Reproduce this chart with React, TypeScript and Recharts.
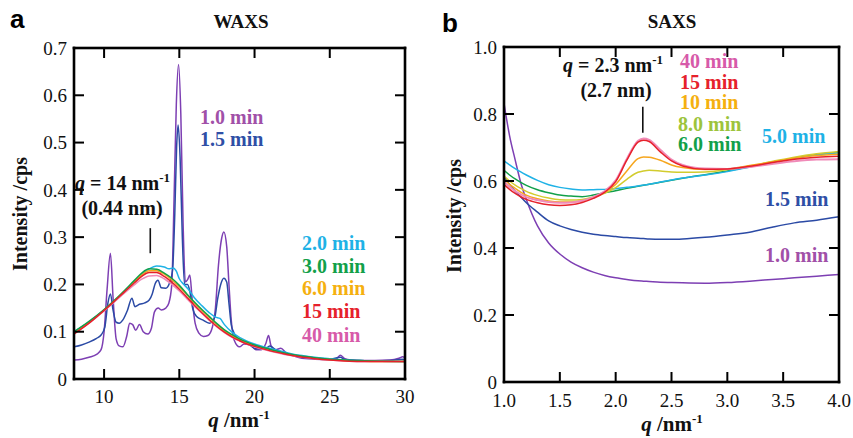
import { LineChart, Line, XAxis, YAxis, ReferenceLine } from 'recharts'

// ---- WAXS (panel a) ----
const WAXS_SMOOTH_Q = [8, 9, 10, 11, 12, 12.5, 13, 13.5, 14, 14.5, 15, 15.5, 16, 16.5, 17, 17.5, 18, 18.5, 19, 19.5, 20, 21, 22, 23, 24, 25, 26, 27, 28, 30]
const WAXS_3MIN = [0.100, 0.122, 0.147, 0.176, 0.208, 0.224, 0.233, 0.232, 0.224, 0.213, 0.198, 0.180, 0.163, 0.147, 0.132, 0.117, 0.104, 0.094, 0.085, 0.078, 0.072, 0.063, 0.055, 0.049, 0.045, 0.042, 0.040, 0.039, 0.038, 0.037]
const WAXS_6MIN = [0.097, 0.120, 0.146, 0.175, 0.205, 0.220, 0.229, 0.229, 0.222, 0.210, 0.195, 0.178, 0.161, 0.145, 0.130, 0.115, 0.102, 0.092, 0.084, 0.077, 0.071, 0.062, 0.054, 0.048, 0.044, 0.041, 0.039, 0.038, 0.037, 0.037]
const WAXS_15MIN = [0.095, 0.118, 0.145, 0.174, 0.203, 0.217, 0.225, 0.225, 0.217, 0.205, 0.190, 0.173, 0.156, 0.140, 0.125, 0.111, 0.099, 0.089, 0.081, 0.074, 0.069, 0.060, 0.053, 0.047, 0.043, 0.040, 0.038, 0.037, 0.037, 0.037]
const WAXS_40MIN = [0.096, 0.118, 0.144, 0.172, 0.199, 0.211, 0.218, 0.219, 0.212, 0.200, 0.186, 0.170, 0.154, 0.139, 0.124, 0.110, 0.098, 0.088, 0.080, 0.074, 0.068, 0.059, 0.052, 0.047, 0.043, 0.040, 0.038, 0.037, 0.037, 0.037]

const WAXS_2MIN_Q = [8, 9, 10, 11, 12, 12.5, 13, 13.5, 14, 14.3, 14.6, 14.8, 15, 15.3, 15.6, 16, 16.5, 17, 17.4, 17.7, 18, 18.5, 19, 19.5, 20, 21, 22, 23, 24, 25, 26, 27, 28, 30]
const WAXS_2MIN = [0.100, 0.121, 0.145, 0.173, 0.205, 0.221, 0.233, 0.239, 0.237, 0.233, 0.235, 0.228, 0.212, 0.200, 0.190, 0.172, 0.155, 0.140, 0.131, 0.128, 0.115, 0.099, 0.088, 0.080, 0.074, 0.065, 0.057, 0.050, 0.046, 0.043, 0.040, 0.039, 0.038, 0.037]

const WAXS_1MIN_Q = [8, 8.5, 9, 9.5, 9.8, 10, 10.2, 10.42, 10.6, 10.8, 11, 11.25, 11.5, 11.7, 11.9, 12.1, 12.35, 12.6, 12.9, 13.15, 13.35, 13.6, 13.8, 14.1, 14.3, 14.5, 14.65, 14.8, 14.95, 15.1, 15.25, 15.4, 15.55, 15.7, 15.85, 16.05, 16.3, 16.6, 16.9, 17.2, 17.4, 17.6, 17.8, 17.96, 18.15, 18.3, 18.45, 18.65, 19, 19.3, 19.7, 20.1, 20.45, 20.75, 20.93, 21.1, 21.4, 21.75, 22.1, 22.5, 23, 24, 25, 25.45, 25.7, 26, 26.5, 27, 28, 29, 29.6, 29.85, 30]
const WAXS_1MIN = [0.040, 0.042, 0.046, 0.052, 0.062, 0.100, 0.190, 0.266, 0.170, 0.085, 0.070, 0.068, 0.090, 0.118, 0.115, 0.103, 0.115, 0.100, 0.095, 0.108, 0.142, 0.150, 0.146, 0.150, 0.160, 0.200, 0.380, 0.580, 0.665, 0.560, 0.330, 0.205, 0.210, 0.220, 0.170, 0.118, 0.097, 0.090, 0.092, 0.110, 0.150, 0.240, 0.295, 0.311, 0.280, 0.200, 0.125, 0.082, 0.068, 0.074, 0.072, 0.062, 0.062, 0.075, 0.092, 0.070, 0.062, 0.065, 0.055, 0.050, 0.045, 0.042, 0.041, 0.043, 0.050, 0.043, 0.040, 0.039, 0.039, 0.040, 0.044, 0.047, 0.044]

const WAXS_1_5MIN_Q = [8, 8.5, 9, 9.5, 9.8, 10.05, 10.25, 10.42, 10.6, 10.8, 11, 11.25, 11.55, 11.85, 12.05, 12.35, 12.7, 13, 13.2, 13.4, 13.58, 13.8, 14.1, 14.35, 14.55, 14.7, 14.82, 14.92, 15.05, 15.2, 15.35, 15.55, 15.7, 15.9, 16.15, 16.55, 17, 17.35, 17.55, 17.75, 17.96, 18.15, 18.3, 18.45, 18.6, 19, 19.45, 20.1, 20.75, 21, 21.4, 22, 23, 24, 25, 25.7, 26, 27, 28, 29, 29.8, 30]
const WAXS_1_5MIN = [0.068, 0.072, 0.078, 0.086, 0.093, 0.110, 0.160, 0.180, 0.145, 0.120, 0.118, 0.125, 0.145, 0.171, 0.153, 0.158, 0.161, 0.167, 0.180, 0.202, 0.209, 0.193, 0.192, 0.203, 0.230, 0.350, 0.490, 0.537, 0.470, 0.300, 0.200, 0.200, 0.185, 0.148, 0.132, 0.125, 0.118, 0.130, 0.170, 0.200, 0.213, 0.205, 0.160, 0.115, 0.100, 0.082, 0.078, 0.064, 0.064, 0.070, 0.062, 0.055, 0.048, 0.044, 0.042, 0.046, 0.041, 0.039, 0.038, 0.039, 0.042, 0.041]

// ---- SAXS (panel b) ----
const SAXS_Q = [1.0, 1.05, 1.1, 1.15, 1.2, 1.3, 1.4, 1.5, 1.6, 1.7, 1.8, 1.9, 2.0, 2.1, 2.2, 2.25, 2.3, 2.4, 2.5, 2.6, 2.8, 3.0, 3.2, 3.4, 3.6, 3.8, 4.0]
const SAXS_1MIN = [0.832, 0.735, 0.663, 0.595, 0.545, 0.466, 0.415, 0.382, 0.358, 0.341, 0.328, 0.318, 0.311, 0.306, 0.302, 0.301, 0.300, 0.298, 0.297, 0.296, 0.295, 0.297, 0.301, 0.306, 0.311, 0.316, 0.321]
const SAXS_1_5MIN = [0.612, 0.590, 0.570, 0.552, 0.535, 0.507, 0.481, 0.466, 0.455, 0.447, 0.441, 0.437, 0.434, 0.431, 0.429, 0.428, 0.427, 0.426, 0.426, 0.427, 0.432, 0.439, 0.447, 0.462, 0.475, 0.483, 0.493]
const SAXS_5MIN = [0.660, 0.648, 0.637, 0.627, 0.618, 0.602, 0.589, 0.581, 0.576, 0.573, 0.574, 0.575, 0.577, 0.581, 0.585, 0.588, 0.590, 0.597, 0.603, 0.609, 0.618, 0.628, 0.642, 0.656, 0.668, 0.678, 0.684]
const SAXS_6MIN = [0.632, 0.618, 0.606, 0.596, 0.587, 0.574, 0.565, 0.558, 0.555, 0.553, 0.558, 0.565, 0.571, 0.578, 0.584, 0.587, 0.590, 0.596, 0.602, 0.608, 0.619, 0.630, 0.643, 0.656, 0.668, 0.679, 0.686]
const SAXS_8MIN = [0.615, 0.600, 0.588, 0.578, 0.569, 0.557, 0.549, 0.544, 0.543, 0.545, 0.552, 0.563, 0.580, 0.605, 0.626, 0.630, 0.632, 0.630, 0.627, 0.626, 0.627, 0.634, 0.645, 0.658, 0.671, 0.681, 0.688]
const SAXS_10MIN = [0.605, 0.590, 0.578, 0.567, 0.558, 0.547, 0.540, 0.537, 0.537, 0.541, 0.551, 0.566, 0.590, 0.630, 0.667, 0.672, 0.671, 0.662, 0.648, 0.640, 0.634, 0.636, 0.646, 0.657, 0.668, 0.676, 0.680]
const SAXS_15MIN = [0.590, 0.575, 0.563, 0.553, 0.545, 0.535, 0.529, 0.527, 0.529, 0.536, 0.548, 0.566, 0.598, 0.662, 0.716, 0.722, 0.718, 0.687, 0.660, 0.645, 0.635, 0.636, 0.644, 0.655, 0.665, 0.671, 0.674]
const SAXS_40MIN = [0.598, 0.583, 0.570, 0.560, 0.552, 0.543, 0.537, 0.535, 0.536, 0.541, 0.552, 0.569, 0.602, 0.666, 0.720, 0.727, 0.723, 0.693, 0.664, 0.648, 0.637, 0.636, 0.642, 0.651, 0.659, 0.664, 0.665]

const WAXS_X_TICKS = [10, 15, 20, 25, 30]
const WAXS_Y_TICKS = [0, 0.1, 0.2, 0.3, 0.4, 0.5, 0.6, 0.7]
const SAXS_X_TICKS = [1.0, 1.5, 2.0, 2.5, 3.0, 3.5, 4.0]
const SAXS_Y_TICKS = [0, 0.2, 0.4, 0.6, 0.8, 1.0]

const zip = (qs: number[], vs: number[]) => qs.map((q, i) => ({ q, v: vs[i] }))

const SERIF = '"Liberation Serif", "Times New Roman", serif'
const SANS = '"Liberation Sans", Arial, sans-serif'
const INK = '#111111'

const C = {
  purple: '#7d3fb3', purpleText: '#a150a8',
  blue: '#2b4aa5', blueText: '#2f4fa6',
  cyan: '#1fb2e6',
  green: '#12a04a',
  orange: '#f6a61e', orangeText: '#f5b010',
  yellow: '#d2cc2e', yellowText: '#9dc43c',
  red: '#e6212b',
  pink: '#f08ab8', pinkText: '#d75aa9',
}

// plot boxes (page pixels), matching the chart margins below
const BOX_A = { left: 74, top: 48, width: 331, height: 331, x: [8, 30], y: [0, 0.7] }
const BOX_B = { left: 504, top: 47, width: 335, height: 335, x: [1, 4], y: [0, 1] }

const tickStyle = { fill: INK, fontSize: 19, fontFamily: SERIF }
const fmt1 = (v: number) => (v === 0 ? '0' : v.toFixed(1))

function series(data: { q: number; v: number }[], color: string, w = 1.5) {
  return (
    <Line
      data={data}
      dataKey="v"
      type="monotone"
      stroke={color}
      strokeWidth={w}
      dot={false}
      activeDot={false}
      isAnimationActive={false}
    />
  )
}

function WaxsPanel() {
  return (
    <LineChart width={430} height={438} margin={{ top: 48, right: 25, bottom: 29, left: 34 }}>
      <XAxis dataKey="q" type="number" domain={[8, 30]} allowDataOverflow ticks={WAXS_X_TICKS} interval={0}
        height={30} tickSize={0} tickMargin={11} tick={tickStyle} tickLine={false} axisLine={false} />
      <YAxis type="number" domain={[0, 0.7]} allowDataOverflow ticks={WAXS_Y_TICKS} interval={0} width={40}
        tickSize={0} tickMargin={7} tick={tickStyle} tickFormatter={fmt1} tickLine={false} axisLine={false} />
      {series(zip(WAXS_1MIN_Q, WAXS_1MIN), C.purple)}
      {series(zip(WAXS_1_5MIN_Q, WAXS_1_5MIN), C.blue)}
      {series(zip(WAXS_2MIN_Q, WAXS_2MIN), C.cyan)}
      {series(zip(WAXS_SMOOTH_Q, WAXS_40MIN), C.pink)}
      {series(zip(WAXS_SMOOTH_Q, WAXS_6MIN), C.orange)}
      {series(zip(WAXS_SMOOTH_Q, WAXS_3MIN), C.green)}
      {series(zip(WAXS_SMOOTH_Q, WAXS_15MIN), C.red)}
      <ReferenceLine segment={[{ x: 13.07, y: 0.266 }, { x: 13.07, y: 0.319 }]} stroke={INK} strokeWidth={1.6} />
    </LineChart>
  )
}

function SaxsPanel() {
  return (
    <LineChart width={423} height={438} margin={{ top: 47, right: 14, bottom: 26, left: 34 }}>
      <XAxis dataKey="q" type="number" domain={[1, 4]} allowDataOverflow ticks={SAXS_X_TICKS} interval={0}
        height={30} tickSize={0} tickMargin={12} tick={tickStyle} tickFormatter={(v: number) => v.toFixed(1)}
        tickLine={false} axisLine={false} />
      <YAxis type="number" domain={[0, 1]} allowDataOverflow ticks={SAXS_Y_TICKS} interval={0} width={40}
        tickSize={0} tickMargin={7} tick={tickStyle} tickFormatter={fmt1} tickLine={false} axisLine={false} />
      {series(zip(SAXS_Q, SAXS_1MIN), C.purple)}
      {series(zip(SAXS_Q, SAXS_1_5MIN), C.blue)}
      {series(zip(SAXS_Q, SAXS_6MIN), C.green)}
      {series(zip(SAXS_Q, SAXS_5MIN), C.cyan)}
      {series(zip(SAXS_Q, SAXS_8MIN), C.yellow)}
      {series(zip(SAXS_Q, SAXS_10MIN), C.orange)}
      {series(zip(SAXS_Q, SAXS_40MIN), C.pink, 2)}
      {series(zip(SAXS_Q, SAXS_15MIN), C.red)}
      <ReferenceLine segment={[{ x: 2.243, y: 0.744 }, { x: 2.243, y: 0.822 }]} stroke={INK} strokeWidth={1.6} />
    </LineChart>
  )
}

// plot frame with inward ticks on all four sides
function Frame({ box, xt, yt }: { box: typeof BOX_A; xt: number[]; yt: number[] }) {
  const { left, top, width, height } = box
  const sx = (v: number) => left + ((v - box.x[0]) / (box.x[1] - box.x[0])) * width
  const sy = (v: number) => top + height - ((v - box.y[0]) / (box.y[1] - box.y[0])) * height
  const len = 10
  const w = 2.6
  const innerX = xt.filter((t) => t > box.x[0] && t < box.x[1])
  const innerY = yt.filter((t) => t > box.y[0] && t < box.y[1])
  return (
    <g fill="#000">
      <rect x={left - w / 2} y={top - w / 2} width={width + w} height={w} />
      <rect x={left - w / 2} y={top + height - w / 2} width={width + w} height={w} />
      <rect x={left - w / 2} y={top - w / 2} width={w} height={height + w} />
      <rect x={left + width - w / 2} y={top - w / 2} width={w} height={height + w} />
      {innerX.map((t) => (
        <g key={`x${t}`}>
          <rect x={sx(t) - 1} y={top + height - len} width={2} height={len} />
          <rect x={sx(t) - 1} y={top} width={2} height={len} />
        </g>
      ))}
      {innerY.map((t) => (
        <g key={`y${t}`}>
          <rect x={left} y={sy(t) - 1} width={len} height={2} />
          <rect x={left + width - len} y={sy(t) - 1} width={len} height={2} />
        </g>
      ))}
    </g>
  )
}

function Tag({ x, y, color, text }: { x: number; y: number; color: string; text: string }) {
  return (
    <text x={x} y={y} fill={color} fontFamily={SERIF} fontWeight="bold" fontSize={20}>{text}</text>
  )
}

function Overlay() {
  const b = { fontFamily: SERIF, fontWeight: 'bold' as const, fill: INK }
  return (
    <svg width={853} height={438} style={{ position: 'absolute', left: 0, top: 0, pointerEvents: 'none' }}>
      <Frame box={BOX_A} xt={WAXS_X_TICKS} yt={WAXS_Y_TICKS} />
      <Frame box={BOX_B} xt={SAXS_X_TICKS} yt={SAXS_Y_TICKS} />

      <text x={10} y={28} fontFamily={SANS} fontWeight="bold" fontSize={26} fill="#000">a</text>
      <text x={442} y={32} fontFamily={SANS} fontWeight="bold" fontSize={26} fill="#000">b</text>
      <text x={241} y={28} {...b} fontSize={19} textAnchor="middle">WAXS</text>
      <text x={672} y={28} {...b} fontSize={19} textAnchor="middle">SAXS</text>

      <text transform="translate(27,214) rotate(-90)" {...b} fontSize={20} textAnchor="middle">Intensity /cps</text>
      <text transform="translate(461,216) rotate(-90)" {...b} fontSize={20} textAnchor="middle">Intensity /cps</text>
      <text x={239} y={427} {...b} fontSize={21} textAnchor="middle">
        <tspan fontStyle="italic">q</tspan> /nm<tspan fontSize={13} dy={-8}>-1</tspan>
      </text>
      <text x={672} y={431} {...b} fontSize={21} textAnchor="middle">
        <tspan fontStyle="italic">q</tspan> /nm<tspan fontSize={13} dy={-8}>-1</tspan>
      </text>

      <text x={75} y={190} {...b} fontSize={20}>
        <tspan fontStyle="italic">q</tspan> = 14 nm<tspan fontSize={13} dy={-8}>-1</tspan>
      </text>
      <text x={122} y={215} {...b} fontSize={20} textAnchor="middle">(0.44 nm)</text>
      <text x={563} y={72} {...b} fontSize={20}>
        <tspan fontStyle="italic">q</tspan> = 2.3 nm<tspan fontSize={13} dy={-8}>-1</tspan>
      </text>
      <text x={616} y={97} {...b} fontSize={20} textAnchor="middle">(2.7 nm)</text>

      <Tag x={200} y={124} color={C.purpleText} text="1.0 min" />
      <Tag x={200} y={146} color={C.blueText} text="1.5 min" />
      <Tag x={302} y={250} color={C.cyan} text="2.0 min" />
      <Tag x={302} y={273} color={C.green} text="3.0 min" />
      <Tag x={302} y={295} color={C.orangeText} text="6.0 min" />
      <Tag x={302} y={318} color={C.red} text="15 min" />
      <Tag x={302} y={342} color={C.pinkText} text="40 min" />

      <Tag x={680} y={68} color={C.pinkText} text="40 min" />
      <Tag x={680} y={89} color={C.red} text="15 min" />
      <Tag x={680} y={109} color={C.orangeText} text="10 min" />
      <Tag x={678} y={131} color={C.yellowText} text="8.0 min" />
      <Tag x={678} y={151} color={C.green} text="6.0 min" />
      <Tag x={762} y={143} color={C.cyan} text="5.0 min" />
      <Tag x={765} y={206} color={C.blueText} text="1.5 min" />
      <Tag x={765} y={262} color={C.purpleText} text="1.0 min" />
    </svg>
  )
}

export default function App() {
  return (
    <div style={{ position: 'absolute', left: 0, top: 0, width: 853, height: 438, background: '#fff', overflow: 'hidden' }}>
      <div style={{ position: 'absolute', left: 0, top: 0 }}>
        <WaxsPanel />
      </div>
      <div style={{ position: 'absolute', left: 430, top: 0 }}>
        <SaxsPanel />
      </div>
      <Overlay />
    </div>
  )
}
